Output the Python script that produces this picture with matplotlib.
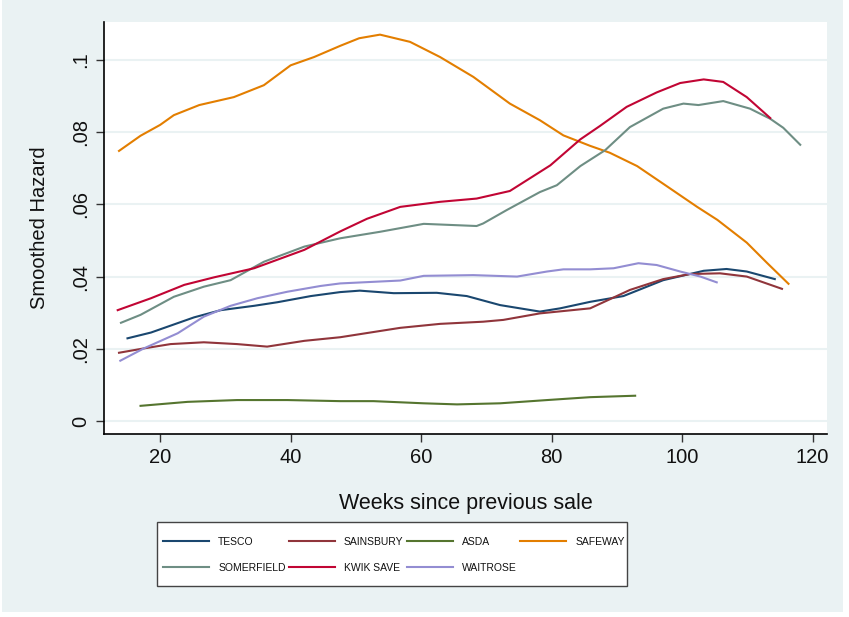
import matplotlib
matplotlib.use("Agg")
import matplotlib.pyplot as plt
from matplotlib.patches import Rectangle

plt.rcParams['font.family'] = ['Liberation Sans', 'DejaVu Sans']

# smoothed hazard estimates, by weeks since previous sale
tesco_w = [15, 18.6, 25.2, 29.3, 34.4, 38, 43.1, 47.6, 50.6, 55.8, 62.4, 67, 72.1, 78.2, 81.3, 85.9, 91, 97.1, 103.3, 106.8, 109.9, 114.2]
tesco_v = [0.0229, 0.0245, 0.0287, 0.0307, 0.0319, 0.0329, 0.0346, 0.0357, 0.0361, 0.0354, 0.0355, 0.0346, 0.0321, 0.0303, 0.0312, 0.0330, 0.0346, 0.0390, 0.0416, 0.0421, 0.0414, 0.0393]

sains_w = [13.7, 17.5, 21.6, 26.7, 31.8, 36.4, 42.1, 47.6, 56.8, 62.9, 69.5, 72.6, 78.2, 85.9, 88.9, 92, 97.1, 101.2, 105.8, 109.9, 115.3]
sains_v = [0.0189, 0.0201, 0.0213, 0.0218, 0.0213, 0.0206, 0.0222, 0.0232, 0.0258, 0.0269, 0.0275, 0.0280, 0.0298, 0.0312, 0.0337, 0.0363, 0.0393, 0.0407, 0.0409, 0.0400, 0.0366]

asda_w = [17, 24.2, 31.8, 39.5, 47.6, 52.7, 60.4, 65.5, 72.1, 79.3, 85.9, 92.8]
asda_v = [0.0042, 0.0053, 0.0058, 0.0058, 0.0055, 0.0055, 0.0049, 0.0046, 0.0049, 0.0058, 0.0066, 0.0070]

safe_w = [13.7, 17, 20, 22.1, 26, 31.3, 35.9, 40, 43.6, 47.6, 50.5, 53.7, 58.3, 62.9, 68, 73.6, 78.2, 81.8, 85.9, 88.9, 93.1, 97.1, 102.3, 105.4, 109.9, 113, 116.3]
safe_v = [0.0748, 0.0790, 0.0820, 0.0847, 0.0875, 0.0897, 0.0930, 0.0985, 0.1008, 0.1039, 0.1060, 0.1070, 0.1050, 0.1008, 0.0953, 0.0879, 0.0833, 0.0791, 0.0762, 0.0743, 0.0706, 0.0657, 0.0593, 0.0557, 0.0494, 0.0438, 0.0380]

somer_w = [14, 17, 22.1, 26.7, 30.8, 35.9, 42.1, 47.6, 53.7, 60.4, 68.5, 69.5, 73.1, 78.2, 80.8, 84.4, 88.2, 92, 97.1, 100.2, 102.5, 106.3, 110.4, 113.5, 115.5, 118.1]
somer_v = [0.0272, 0.0294, 0.0344, 0.0372, 0.0390, 0.0441, 0.0483, 0.0506, 0.0524, 0.0546, 0.0540, 0.0547, 0.0584, 0.0634, 0.0653, 0.0706, 0.0750, 0.0814, 0.0865, 0.0879, 0.0875, 0.0886, 0.0865, 0.0837, 0.0812, 0.0765]

kwik_w = [13.5, 18.6, 23.7, 28.3, 34.4, 42.1, 47.6, 51.7, 56.8, 62.9, 68.5, 73.6, 79.8, 84.4, 87.4, 91.5, 96.1, 99.7, 103.3, 106.3, 109.9, 113.5]
kwik_v = [0.0307, 0.0340, 0.0377, 0.0398, 0.0423, 0.0474, 0.0525, 0.0560, 0.0593, 0.0607, 0.0616, 0.0637, 0.0708, 0.0780, 0.0817, 0.0870, 0.0910, 0.0936, 0.0946, 0.0939, 0.0897, 0.0839]

wait_w = [13.9, 17.5, 22.7, 26.7, 30.8, 34.9, 39.5, 44.6, 47.6, 56.8, 60.4, 68, 74.7, 79.3, 81.8, 85.9, 89.5, 93.3, 96.1, 99.7, 102.8, 105.3]
wait_v = [0.0167, 0.0201, 0.0243, 0.0289, 0.0319, 0.0340, 0.0358, 0.0374, 0.0381, 0.0389, 0.0402, 0.0404, 0.0400, 0.0414, 0.0420, 0.0420, 0.0423, 0.0437, 0.0432, 0.0414, 0.0400, 0.0384]

series = [
    ("TESCO", tesco_w, tesco_v, "#1a476f"),
    ("SAINSBURY", sains_w, sains_v, "#90353b"),
    ("ASDA", asda_w, asda_v, "#55752f"),
    ("SAFEWAY", safe_w, safe_v, "#e37e00"),
    ("SOMERFIELD", somer_w, somer_v, "#6e8e84"),
    ("KWIK SAVE", kwik_w, kwik_v, "#c10534"),
    ("WAITROSE", wait_w, wait_v, "#938dd2"),
]

yticks = [0, 0.02, 0.04, 0.06, 0.08, 0.1]
ytick_labels = ["0", ".02", ".04", ".06", ".08", ".1"]
xticks = [20, 40, 60, 80, 100, 120]

bg = "#eaf2f3"
fig = plt.figure(figsize=(8.49, 6.17), dpi=100, facecolor="white")
fig.patches.append(Rectangle((2 / 849, 5 / 617), 841 / 849, 612 / 617,
                             transform=fig.transFigure, facecolor=bg,
                             edgecolor="none", zorder=-10))
# legend box drawn separately so its size can be set freely
fig.patches.append(Rectangle((157 / 849, 1 - 586 / 617), 470 / 849, 64 / 617,
                             transform=fig.transFigure, facecolor="white",
                             edgecolor="#444444", lw=1, zorder=-5))

ax = fig.add_axes([104 / 849, 183 / 617, 723 / 849, 412 / 617])
ax.set_facecolor("white")
lines = {}
for name, w, v, c in series:
    lines[name], = ax.plot(w, v, color=c, lw=1.5, label=name)

ax.set_xlim(11.4, 122.2)
ax.set_ylim(-0.0036, 0.1105)
ax.set_yticks(yticks)
ax.set_yticklabels(ytick_labels, rotation=90, va="center")
ax.set_xticks(xticks)
ax.grid(axis="y", color=bg, lw=1.5)
ax.set_axisbelow(True)
for s in ["top", "right"]:
    ax.spines[s].set_visible(False)
for s in ["left", "bottom"]:
    ax.spines[s].set_color("black")
    ax.spines[s].set_linewidth(1.2)
ax.tick_params(axis="both", length=6, width=1, color="#333333",
               labelsize=14.5, labelcolor="#111111", pad=4)

ax.set_ylabel("Smoothed Hazard", fontsize=14.5, color="#111111", labelpad=16)
ax.set_xlabel("Weeks since previous sale", fontsize=15.5, color="#111111", labelpad=19)

# legend fills column by column, so order it to read row by row
order = ["TESCO", "SOMERFIELD", "SAINSBURY", "KWIK SAVE", "ASDA", "WAITROSE", "SAFEWAY"]
leg = fig.legend([lines[n] for n in order], order,
                 loc="upper left", bbox_to_anchor=(163 / 849, 1 - 537 / 617),
                 ncol=4, frameon=False, fontsize=7.5,
                 handlelength=4.4, handletextpad=0.9, columnspacing=0.3,
                 borderpad=0, borderaxespad=0, labelspacing=1.55)
for t in leg.get_texts():
    t.set_color("#111111")

fig.savefig("out.png", dpi=100, facecolor=fig.get_facecolor())
